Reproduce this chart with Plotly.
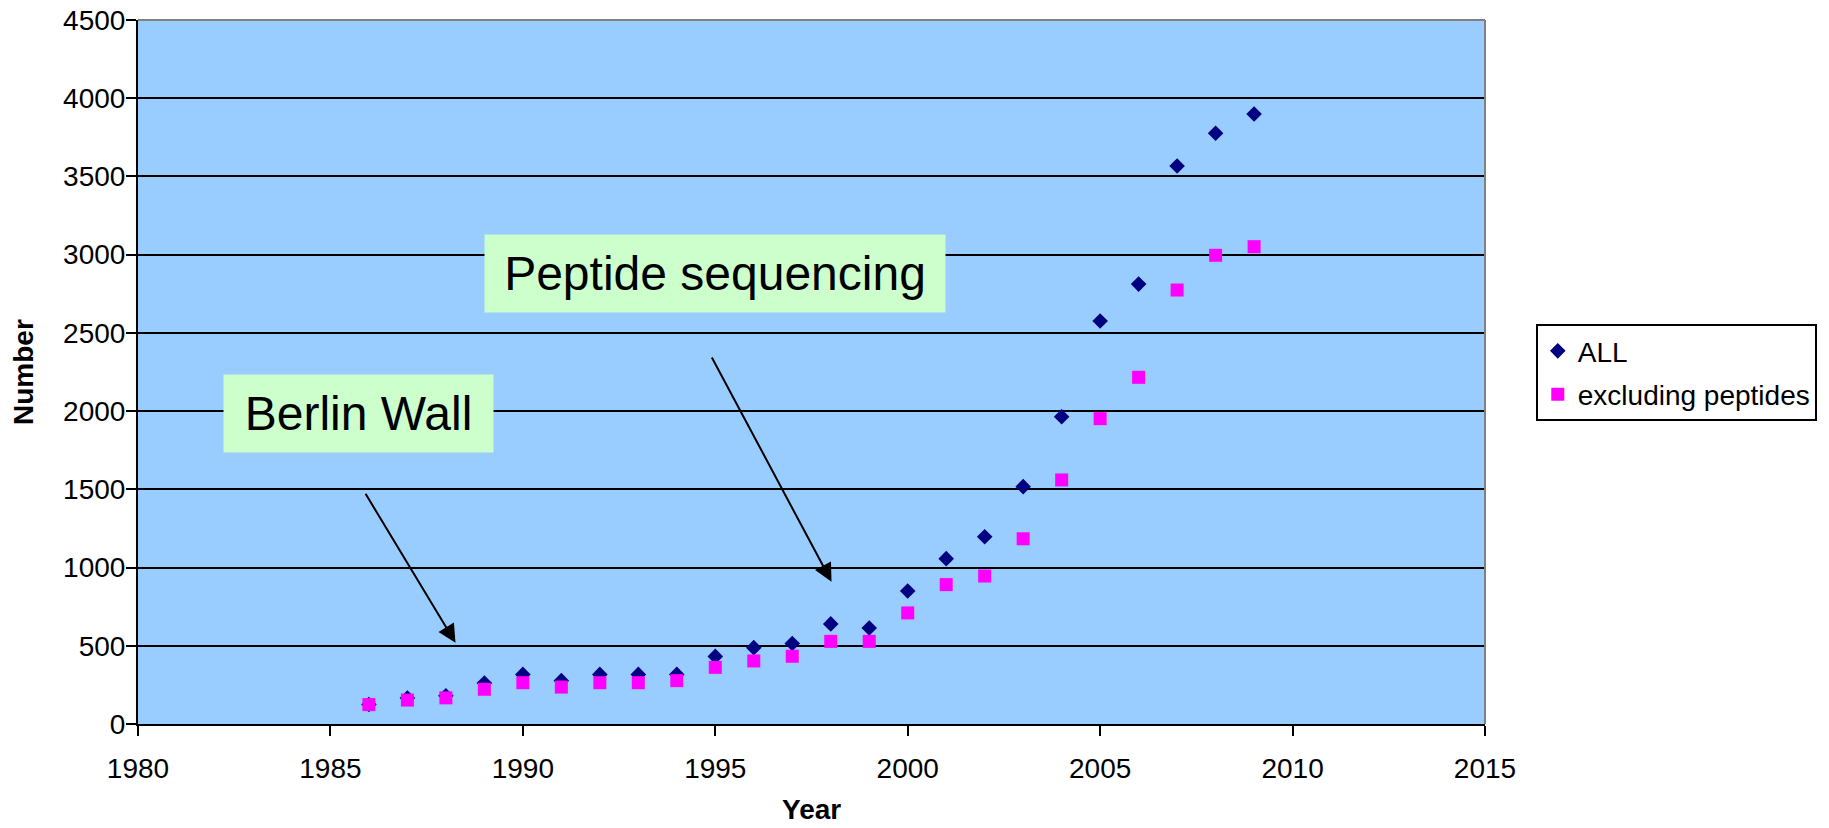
import plotly.graph_objects as go

# Yearly counts, 1986-2009
years = list(range(1986, 2010))
all_counts = [125, 166, 181, 262, 317, 277, 317, 317, 317, 432, 488, 515,
              640, 614, 850, 1057, 1197, 1517, 1964, 2576, 2812, 3567, 3776, 3899]
excl_peptides = [124, 153, 167, 222, 264, 236, 264, 264, 277, 362, 403, 433,
                 528, 528, 710, 891, 946, 1184, 1560, 1952, 2216, 2774, 2996, 3051]

series_names = ["ALL", "excluding peptides"]

x_ticks = [1980, 1985, 1990, 1995, 2000, 2005, 2010, 2015]
y_ticks = [0, 500, 1000, 1500, 2000, 2500, 3000, 3500, 4000, 4500]

# Callout labels: text, centre (year, value), box width/height in px
callouts = [
    ("Berlin Wall", 1985.73, 1985, 269, 77),
    ("Peptide sequencing", 1994.99, 2880, 460, 77),
]
# Callout arrows: (tail year, tail value, head year, head value)
arrows = [
    (1985.89, 1481, 1988.25, 520),
    (1994.89, 2352, 1998.02, 910),
]

FONT = "Liberation Sans, Arial, Helvetica, sans-serif"

fig = go.Figure()
fig.add_trace(go.Scatter(
    x=years, y=all_counts, mode="markers", name=series_names[0],
    legendgroup="a",
    marker=dict(symbol="diamond", size=12, color="#000080"),
))
fig.add_trace(go.Scatter(
    x=years, y=excl_peptides, mode="markers", name=series_names[1],
    legendgroup="b",
    marker=dict(symbol="square", size=13, color="#FF00FF"),
))

annotations = []
for text, cx, cy, w, h in callouts:
    annotations.append(dict(
        x=cx, y=cy, xref="x", yref="y", text=text, showarrow=False,
        xanchor="center", yanchor="middle", width=w, height=h,
        borderpad=0, bgcolor="#CCFFCC", align="center", valign="middle",
        font=dict(family=FONT, size=48, color="black"),
    ))
for tx, ty, hx, hy in arrows:
    annotations.append(dict(
        x=hx, y=hy, ax=tx, ay=ty, xref="x", yref="y", axref="x", ayref="y",
        text="", showarrow=True, arrowhead=2, arrowsize=1.8, arrowwidth=2,
        arrowcolor="black", standoff=0, startstandoff=0,
    ))

# Axis titles
annotations.append(dict(
    text="<b>Year</b>", xref="paper", yref="paper", x=0.5, y=-0.122,
    xanchor="center", yanchor="middle", showarrow=False,
    font=dict(family=FONT, size=28, color="black"),
))
annotations.append(dict(
    text="<b>Number</b>", xref="paper", yref="paper", x=-0.0854, y=0.5,
    xanchor="center", yanchor="middle", showarrow=False, textangle=-90,
    font=dict(family=FONT, size=28, color="black"),
))

fig.update_layout(
    width=1829, height=828,
    margin=dict(l=138, r=339, t=20, b=104),
    paper_bgcolor="white",
    plot_bgcolor="#99CCFF",
    font=dict(family=FONT, size=28, color="black"),
    showlegend=True,
    legend=dict(
        x=1.0377, y=0.568, xanchor="left", yanchor="top",
        bgcolor="white", bordercolor="black", borderwidth=2,
        font=dict(family=FONT, size=28, color="black"),
        tracegroupgap=4,
    ),
    annotations=annotations,
    shapes=[
        dict(type="line", xref="paper", yref="paper", x0=0, x1=1, y0=1, y1=1,
             line=dict(color="#808080", width=2), layer="above"),
        dict(type="line", xref="paper", yref="paper", x0=1, x1=1, y0=0, y1=1,
             line=dict(color="#808080", width=2), layer="above"),
    ],
)

fig.update_xaxes(
    range=[1980, 2015], tickvals=x_ticks, ticktext=[str(v) for v in x_ticks],
    showgrid=False, zeroline=False, automargin=False,
    showline=True, linecolor="black", linewidth=2,
    ticks="outside", ticklen=10, tickwidth=2, tickcolor="black",
    ticklabelstandoff=8,
    tickfont=dict(family=FONT, size=28, color="black"),
)
fig.update_yaxes(
    range=[0, 4500], tickvals=y_ticks, ticktext=[str(v) for v in y_ticks],
    showgrid=True, gridcolor="black", gridwidth=2, zeroline=False,
    automargin=False,
    showline=True, linecolor="black", linewidth=2,
    ticks="outside", ticklen=10, tickwidth=2, tickcolor="black",
    ticklabelstandoff=-5,
    tickfont=dict(family=FONT, size=28, color="black"),
)

fig.write_html("out.html")
